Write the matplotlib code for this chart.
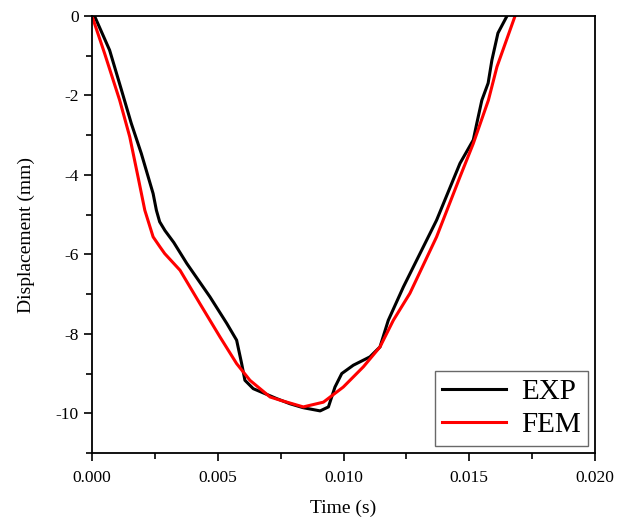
import matplotlib.pyplot as plt
from matplotlib.ticker import MultipleLocator

plt.rcParams['font.family'] = ['Liberation Serif', 'DejaVu Serif']

# EXP curve (time in s, displacement in mm)
exp_t = [0.0001, 0.0007, 0.00117, 0.00156, 0.00196, 0.00243, 0.00256, 0.00269,
         0.0029, 0.00325, 0.00377, 0.00469, 0.00536, 0.00575, 0.00595, 0.00608,
         0.00641, 0.00734, 0.00787, 0.0084, 0.00907, 0.0094, 0.00966, 0.00993,
         0.01039, 0.01105, 0.01145, 0.01178, 0.01238, 0.0137, 0.01463, 0.01516,
         0.0153, 0.0155, 0.01575, 0.0159, 0.01614, 0.0165]
exp_d = [0, -0.86, -1.86, -2.70, -3.46, -4.47, -4.89, -5.18,
         -5.40, -5.70, -6.23, -7.07, -7.74, -8.16, -8.75, -9.17,
         -9.38, -9.63, -9.76, -9.86, -9.94, -9.84, -9.34, -9.00,
         -8.79, -8.58, -8.33, -7.66, -6.82, -5.14, -3.71, -3.12,
         -2.70, -2.12, -1.69, -1.11, -0.43, 0]

# FEM curve
fem_t = [0, 0.0005, 0.0011, 0.0015, 0.00183, 0.0021, 0.00243, 0.0027, 0.00289,
         0.0035, 0.00429, 0.00509, 0.00575, 0.00628, 0.00708, 0.00748, 0.0084,
         0.0092, 0.00999, 0.01079, 0.01145, 0.01198, 0.01264, 0.0137, 0.01463,
         0.01516, 0.01576, 0.0161, 0.01682]
fem_d = [0, -0.94, -2.12, -3.04, -4.05, -4.89, -5.56, -5.81, -5.98,
         -6.40, -7.24, -8.08, -8.75, -9.17, -9.59, -9.67, -9.84,
         -9.72, -9.34, -8.83, -8.33, -7.66, -6.98, -5.56, -4.05,
         -3.21, -2.12, -1.28, 0]

fig = plt.figure(figsize=(6.28, 5.21), dpi=100)
ax = fig.add_axes([0.1465, 0.1305, 0.801, 0.8388])

ax.plot(exp_t, exp_d, color='black', lw=2.2, solid_joinstyle='round', label='EXP')
ax.plot(fem_t, fem_d, color='red', lw=2.2, solid_joinstyle='round', label='FEM')

ax.set_xlim(0, 0.020)
ax.set_ylim(-11, 0)
ax.xaxis.set_major_locator(MultipleLocator(0.005))
ax.xaxis.set_minor_locator(MultipleLocator(0.0025))
ax.yaxis.set_major_locator(MultipleLocator(2))
ax.yaxis.set_minor_locator(MultipleLocator(1))
ax.xaxis.set_major_formatter(plt.FormatStrFormatter('%.3f'))
ax.yaxis.set_major_formatter(plt.FormatStrFormatter('%d'))

ax.tick_params(which='major', direction='out', length=6, width=1.2, labelsize=12.5)
ax.tick_params(axis='x', which='major', pad=6)
ax.tick_params(which='minor', direction='out', length=4, width=1.2)
for s in ax.spines.values():
    s.set_linewidth(1.3)

ax.set_xlabel('Time (s)', fontsize=14, labelpad=10)
ax.set_ylabel('Displacement (mm)', fontsize=14, labelpad=15)

leg = ax.legend(loc='lower right', fontsize=21, fancybox=False, handlelength=2.2,
                borderaxespad=0.25, borderpad=0.25, handletextpad=0.5,
                labelspacing=0.25)
leg.get_frame().set_edgecolor('#444444')
leg.get_frame().set_linewidth(1.0)

fig.savefig('out.png', dpi=100)
